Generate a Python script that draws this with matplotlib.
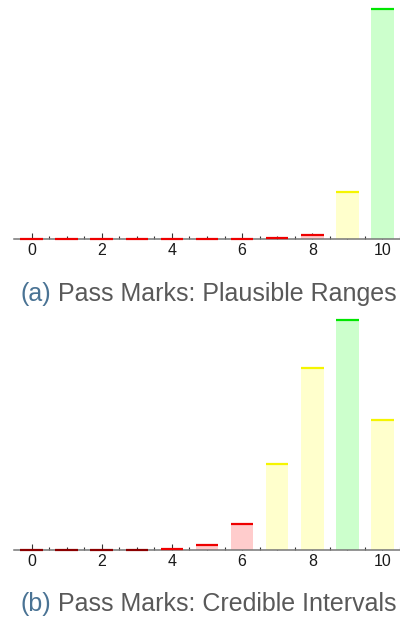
import matplotlib
matplotlib.use("Agg")
import matplotlib.pyplot as plt
import numpy as np

plt.rcParams["font.family"] = ["Liberation Sans", "DejaVu Sans"]

marks = np.arange(11)
# posterior probability of each pass mark
plausible = [0.0015, 0.0015, 0.0015, 0.0015, 0.0015, 0.0015, 0.0015,
             0.002, 0.014, 0.166, 0.811]
credible = [0.0001, 0.0001, 0.0001, 0.0001, 0.0014, 0.008, 0.040,
            0.130, 0.276, 0.348, 0.197]
captions = [("(a)", " Pass Marks: Plausible Ranges"),
            ("(b)", " Pass Marks: Credible Intervals")]

PALETTE = {
    "best": ("#00e600", "#ccffcc"),
    "plausible": ("#f5f500", "#ffffcc"),
    "unlikely": ("#ee0000", "#ffcccc"),
    "negligible": ("#8b0000", "#ffcccc"),
}


def grade(v, vmax):
    rel = v / vmax
    if rel >= 0.999:
        return "best"
    if rel >= 0.15:
        return "plausible"
    if rel >= 1e-3:
        return "unlikely"
    return "negligible"


def draw_panel(ax, values):
    values = np.asarray(values)
    vmax = values.max()
    width = 0.64
    grades = [grade(v, vmax) for v in values]
    edge = [PALETTE[g][0] for g in grades]
    fill = [PALETTE[g][1] for g in grades]
    ax.bar(marks, values, width=width, color=fill, zorder=2)
    ax.hlines(values, marks - width / 2, marks + width / 2, colors=edge,
              lw=1.6, zorder=4, clip_on=False)
    ax.set_xlim(-0.5, 10.45)
    ax.set_ylim(0, vmax * 1.037)
    for side in ("left", "right", "top"):
        ax.spines[side].set_visible(False)
    ax.spines["bottom"].set_color("#777777")
    ax.spines["bottom"].set_linewidth(1.1)
    ax.spines["bottom"].set_zorder(3)
    ax.set_yticks([])
    ax.set_xticks(range(0, 11, 2))
    ax.set_xticks(np.arange(0, 10.6, 0.5), minor=True)
    ax.tick_params(axis="x", which="major", direction="in", length=4,
                   width=0.8, color="#333333", labelsize=11.5, pad=3,
                   labelcolor="#1a1a1a")
    ax.tick_params(axis="x", which="minor", direction="in", length=2.5,
                   width=0.8, color="#333333")


fig = plt.figure(figsize=(4.0, 6.18), dpi=100)
ax_a = fig.add_axes([0.035, 0.6133, 0.965, 0.3867])
ax_b = fig.add_axes([0.035, 0.110, 0.965, 0.386])
draw_panel(ax_a, plausible)
draw_panel(ax_b, credible)

for (label, title), y in zip(captions, [0.513, 0.0115]):
    t = fig.text(0.052, y, label, color="#4a7394", fontsize=18,
                 va="baseline")
    fig.add_artist(matplotlib.text.Annotation(
        title, xy=(1, 0), xycoords=t, color="#595959", fontsize=18,
        va="bottom", ha="left"))

fig.savefig("out.png", dpi=100)
